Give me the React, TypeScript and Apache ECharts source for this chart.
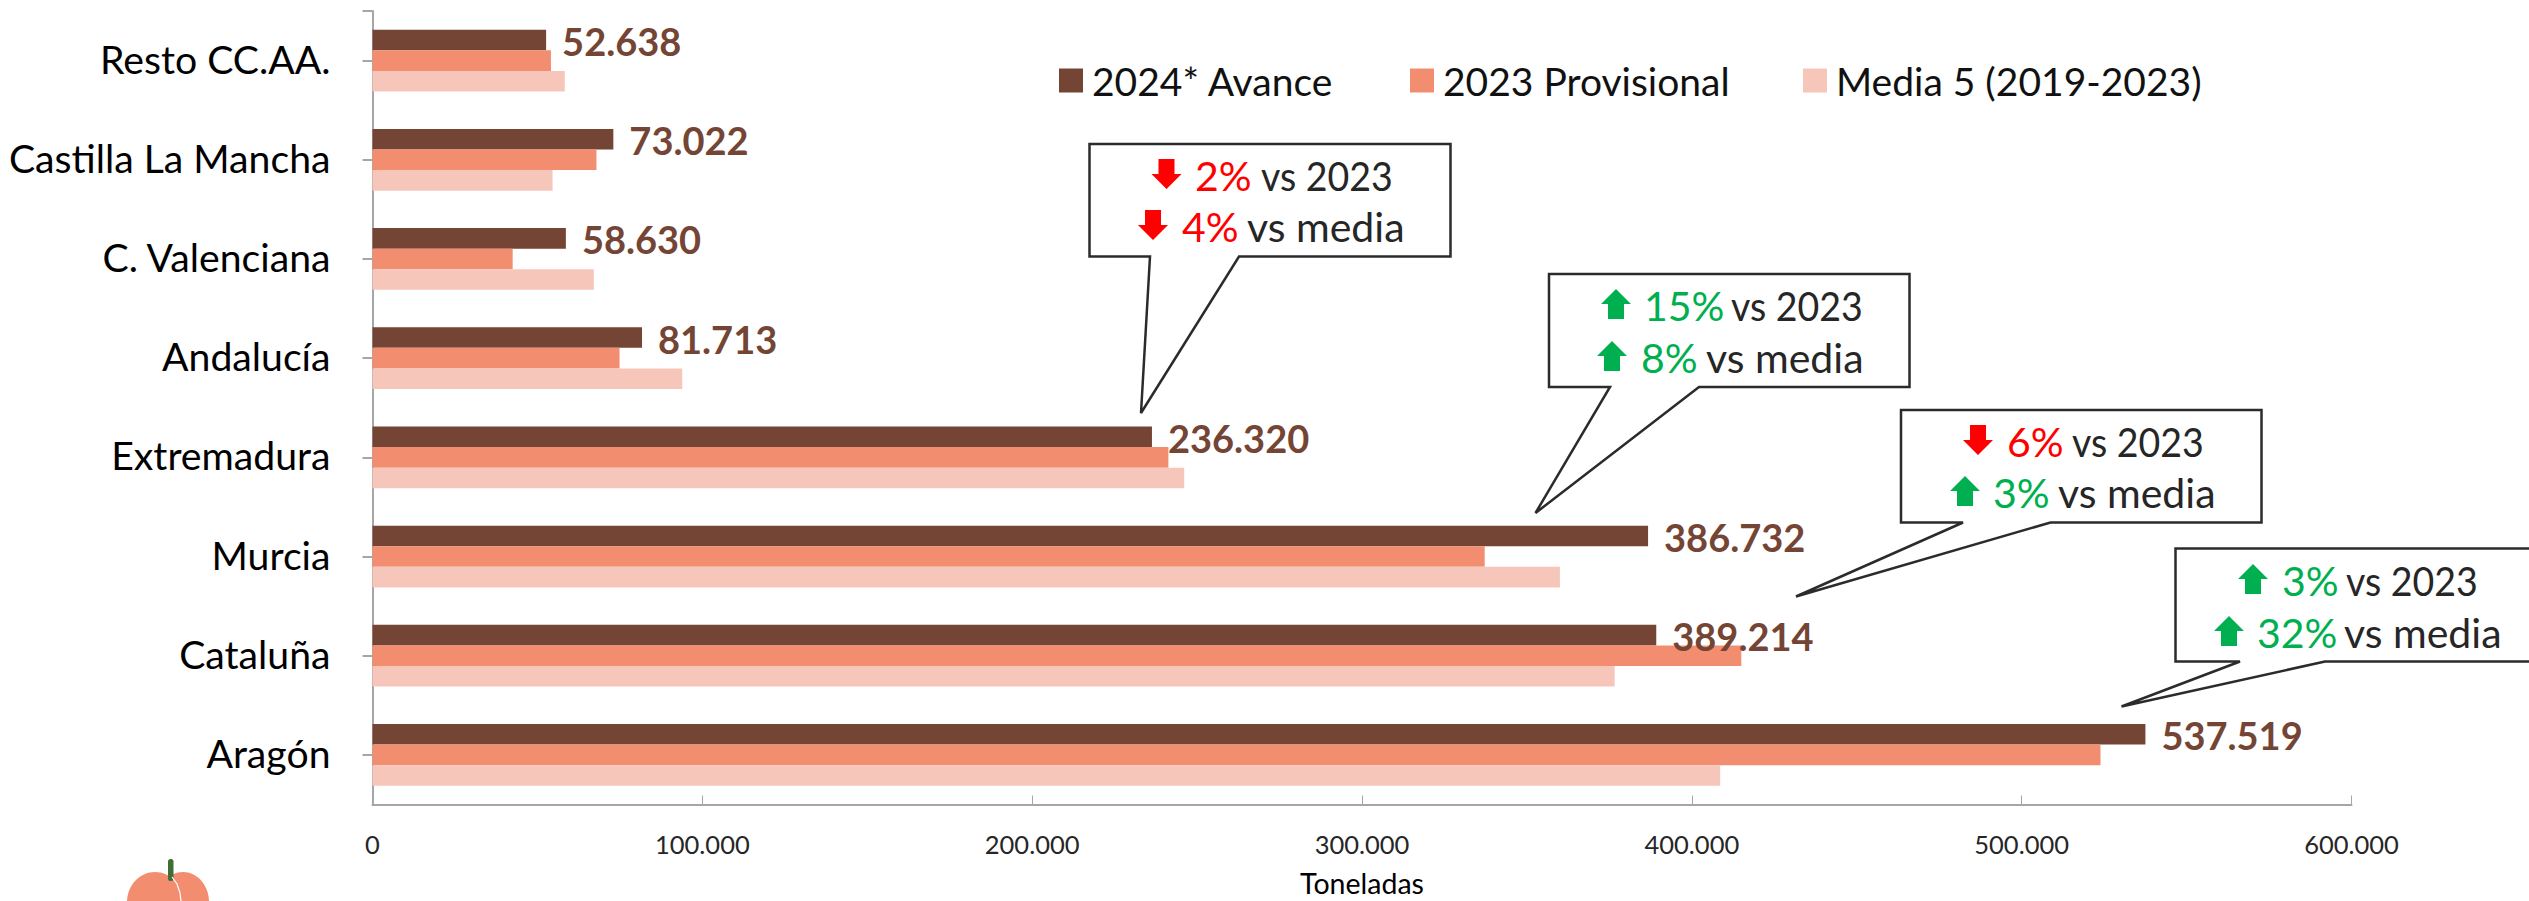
import React, { useEffect, useRef } from "react";
import * as echarts from "echarts";

const categories = ["Resto CC.AA.", "Castilla La Mancha", "C. Valenciana", "Andalucía", "Extremadura", "Murcia", "Cataluña", "Aragón"];
const avance2024 = [52638, 73022, 58630, 81713, 236320, 386732, 389214, 537519];
const provisional2023 = [54100, 67900, 42500, 74900, 241300, 337200, 415000, 523900];
const media5 = [58300, 54600, 67100, 93900, 246100, 360000, 376600, 408600];
const seriesNames = ["2024* Avance", "2023 Provisional", "Media 5 (2019-2023)"];
const xTicks = [0, 100000, 200000, 300000, 400000, 500000, 600000];

const DARK = "#744535";
const MID = "#F38D70";
const LIGHT = "#F7C6BB";
const RED = "#FF0000";
const GREEN = "#00B050";
const FONT = "Lato, 'Open Sans', sans-serif";
const AXIS = "#A6A6A6";

const fmt = (v: number) => String(v).replace(/\B(?=(\d{3})+$)/g, ".");

function arrow(x: number, y: number, up: boolean, color: string) {
  const w = 30, h = 30, s = 16, head = 15;
  const c = x + w / 2;
  const pts = up
    ? [[c, y], [x + w, y + head], [c + s / 2, y + head], [c + s / 2, y + h], [c - s / 2, y + h], [c - s / 2, y + head], [x, y + head]]
    : [[c - s / 2, y], [c + s / 2, y], [c + s / 2, y + h - head], [x + w, y + h - head], [c, y + h], [x, y + h - head], [c - s / 2, y + h - head]];
  return { type: "polygon", shape: { points: pts }, style: { fill: color }, silent: true, z: 12 };
}

function line(x: number, cy: number, text1: string, color: string, x2: number, text2: string) {
  const narrow = text2.indexOf("2023") >= 0;
  return [
    { type: "text", x, y: cy, style: { text: text1, fill: color, font: `41px ${FONT}`, textVerticalAlign: "middle" }, z: 12, silent: true },
    { type: "text", x: x2, y: cy, scaleX: narrow ? 0.915 : 1, style: { text: text2, fill: "#262626", font: `41px ${FONT}`, textVerticalAlign: "middle" }, z: 12, silent: true },
  ];
}

function callout(x0: number, y0: number, x1: number, y1: number, b0: number, b1: number, tx: number, ty: number) {
  return {
    type: "polygon",
    shape: { points: [[x0, y0], [x1, y0], [x1, y1], [b1, y1], [tx, ty], [b0, y1], [x0, y1]] },
    style: { fill: "#FFFFFF", stroke: "#2B2B2B", lineWidth: 2.5 },
    z: 10,
    silent: true,
  };
}

function buildGraphics() {
  return [
    { type: "line", shape: { x1: 362.5, y1: 11, x2: 372.5, y2: 11 }, style: { stroke: AXIS, lineWidth: 2 }, silent: true },
    callout(1089.5, 144, 1450.5, 256.5, 1150, 1239, 1141, 413),
    arrow(1151.5, 159, false, RED), ...line(1195, 175, "2%", RED, 1261, "vs 2023"),
    arrow(1138, 210, false, RED), ...line(1182, 226, "4%", RED, 1247, "vs media"),
    callout(1549, 274, 1909.5, 387, 1610, 1699, 1535.5, 513),
    arrow(1601, 289, true, GREEN), ...line(1644, 305, "15%", GREEN, 1731, "vs 2023"),
    arrow(1597, 341, true, GREEN), ...line(1641, 357, "8%", GREEN, 1706, "vs media"),
    callout(1901, 410, 2261.5, 522.5, 1963, 2050.5, 1796, 596.5),
    arrow(1963, 425, false, RED), ...line(2007, 441, "6%", RED, 2072, "vs 2023"),
    arrow(1950, 476, true, GREEN), ...line(1993, 492, "3%", GREEN, 2058, "vs media"),
    callout(2175.5, 548.5, 2540, 661.5, 2240, 2325, 2121.5, 706.5),
    arrow(2238, 564, true, GREEN), ...line(2282, 580, "3%", GREEN, 2346, "vs 2023"),
    arrow(2214, 616, true, GREEN), ...line(2257, 632, "32%", GREEN, 2344, "vs media"),
    { type: "rect", shape: { x: 168, y: 859, width: 5.5, height: 22, r: 2.5 }, style: { fill: "#3F6E35" }, silent: true, z: 3 },
    { type: "ellipse", shape: { cx: 155, cy: 902, rx: 28, ry: 30 }, style: { fill: MID }, silent: true, z: 2 },
    { type: "ellipse", shape: { cx: 183, cy: 902, rx: 26, ry: 30 }, style: { fill: MID }, silent: true, z: 2 },
    { type: "polyline", shape: { points: [[172, 877], [177, 884], [180, 893], [181, 901]] }, style: { stroke: "#FFFFFF", fill: "none", lineWidth: 1.2 }, silent: true, z: 4 },
  ];
}

function legendAt(name: string, left: number) {
  return {
    show: true,
    data: [name],
    left,
    top: 61,
    itemWidth: 24,
    itemHeight: 24,
    icon: "rect",
    itemGap: 0,
    padding: 0,
    selectedMode: false,
    textStyle: { fontFamily: FONT, fontSize: 39, color: "#111111", padding: [0, 0, 3, 4] },
  };
}

export default function App() {
  const ref = useRef<HTMLDivElement>(null);
  useEffect(() => {
    const chart = echarts.init(ref.current!, undefined, { renderer: "svg" });
    const bar = (name: string, data: number[], color: string, extra: object = {}) => ({
      name,
      type: "bar",
      data,
      barWidth: 20.6,
      barGap: "0%",
      itemStyle: { color },
      ...extra,
    });
    chart.setOption({
      animation: false,
      backgroundColor: "#FFFFFF",
      textStyle: { fontFamily: FONT },
      grid: { left: 372.5, right: 177.5, top: 11, bottom: 96.5, containLabel: false, outerBoundsMode: "none" },
      legend: [legendAt(seriesNames[0], 1059), legendAt(seriesNames[1], 1410), legendAt(seriesNames[2], 1803)],
      xAxis: {
        type: "value",
        min: 0,
        max: 600000,
        interval: 100000,
        position: "bottom",
        name: "Toneladas",
        nameLocation: "middle",
        nameGap: 65.5,
        nameMoveOverlap: false,
        nameTextStyle: { fontFamily: FONT, fontSize: 28.5, lineHeight: 26, color: "#000000" },
        splitLine: { show: false },
        axisLine: { show: true, lineStyle: { color: AXIS, width: 2 } },
        axisTick: { show: true, inside: true, length: 9, customValues: xTicks, lineStyle: { color: AXIS, width: 1 } },
        axisLabel: { margin: 26, fontFamily: FONT, fontSize: 25.5, color: "#262626", formatter: (v: number) => fmt(v), customValues: xTicks },
      },
      yAxis: {
        type: "category",
        data: categories,
        inverse: true,
        axisLine: { show: true, lineStyle: { color: AXIS, width: 2 } },
        axisTick: { show: true, alignWithLabel: true, length: 10, lineStyle: { color: AXIS, width: 2 } },
        axisLabel: {
          margin: 42,
          formatter: (v: string) => `{c|${v}}`,
          rich: { c: { fontFamily: FONT, fontSize: 39.2, color: "#000000", padding: [0, 0, 5, 0] } },
        },
      },
      series: [
        bar(seriesNames[0], avance2024, DARK, {
          label: {
            show: true,
            position: "right",
            distance: 16,
            offset: [0, 1],
            fontFamily: FONT,
            fontWeight: "bold",
            fontSize: 38,
            color: DARK,
            formatter: (p: { value: number }) => fmt(p.value),
          },
        }),
        bar(seriesNames[1], provisional2023, MID),
        bar(seriesNames[2], media5, LIGHT),
      ],
      graphic: buildGraphics(),
    });
    return () => chart.dispose();
  }, []);
  return <div ref={ref} style={{ position: "absolute", left: 0, top: 0, width: 2529, height: 901 }} />;
}
